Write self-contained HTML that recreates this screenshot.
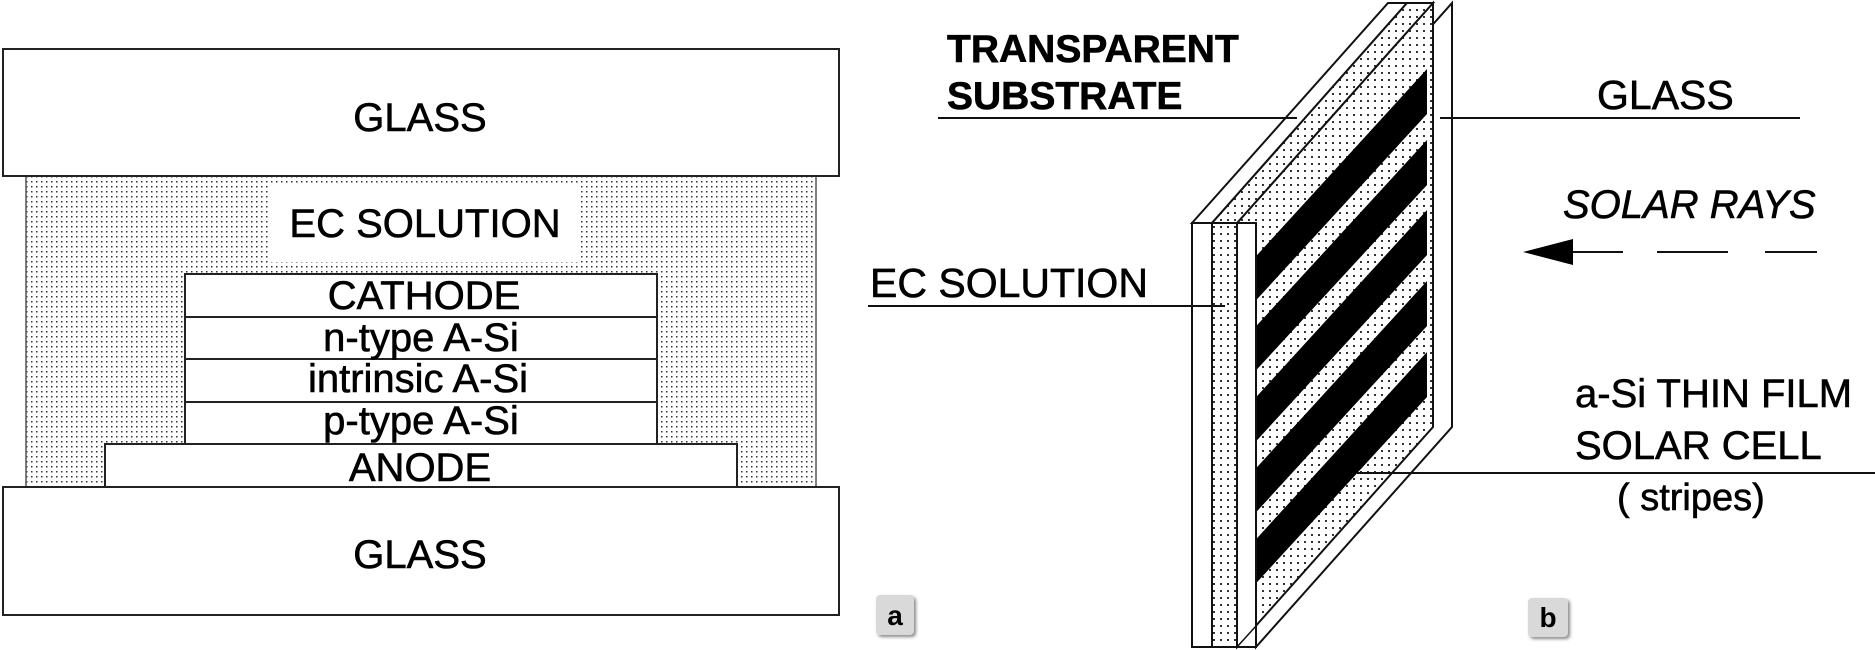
<!DOCTYPE html>
<html><head><meta charset="utf-8"><style>
html,body{margin:0;padding:0;background:#fff;}
svg{display:block;}
text{font-family:"Liberation Sans",sans-serif;fill:#000;stroke:#000;stroke-width:0.6px;}
</style></head><body>
<svg width="1875" height="650" viewBox="0 0 1875 650" xmlns="http://www.w3.org/2000/svg">
<defs>
<pattern id="dots" width="5" height="5" patternUnits="userSpaceOnUse">
<rect width="5" height="5" fill="#fff"/><rect x="1" y="1" width="1.5" height="1.5" fill="#333"/>
</pattern>
<pattern id="dots2" width="7" height="7" patternUnits="userSpaceOnUse">
<rect width="7" height="7" fill="#fff"/><rect x="2" y="2" width="2" height="2" fill="#333"/>
</pattern>
<filter id="sh" x="-30%" y="-30%" width="160%" height="160%"><feDropShadow dx="2" dy="2" stdDeviation="1.5" flood-color="#888"/></filter>
</defs>

<!-- Panel a -->
<rect x="26" y="176" width="790" height="311" fill="url(#dots)" stroke="#555" stroke-width="1.5"/>
<rect x="270" y="185" width="310" height="77" fill="#fff"/>
<rect x="3" y="49" width="836" height="127" fill="#fff" stroke="#222" stroke-width="2"/>
<rect x="185" y="274" width="472" height="170" fill="#fff" stroke="#222" stroke-width="2"/>
<line x1="185" y1="317" x2="657" y2="317" stroke="#222" stroke-width="2"/>
<line x1="185" y1="359" x2="657" y2="359" stroke="#222" stroke-width="2"/>
<line x1="185" y1="402" x2="657" y2="402" stroke="#222" stroke-width="2"/>
<rect x="105" y="444" width="632" height="43" fill="#fff" stroke="#222" stroke-width="2"/>
<rect x="3" y="487" width="836" height="128" fill="#fff" stroke="#222" stroke-width="2"/>
<g font-size="40" text-anchor="middle">
<text x="420" y="131">GLASS</text>
<text x="425" y="237">EC SOLUTION</text>
<text x="424" y="309">CATHODE</text>
<text x="421" y="351">n-type A-Si</text>
<text x="418" y="392">intrinsic A-Si</text>
<text x="421" y="434">p-type A-Si</text>
<text x="420" y="481">ANODE</text>
<text x="420" y="568">GLASS</text>
</g>
<rect x="876" y="595" width="38" height="40" rx="4" fill="#d9d9d9" filter="url(#sh)"/>
<text x="895" y="625" font-family="Liberation Serif,serif" font-weight="bold" font-size="28" text-anchor="middle" style="stroke-width:0">a</text>

<!-- Panel b -->
<polygon points="1256,223 1452,3 1452,427 1256,647" fill="#fff" stroke="#111" stroke-width="2"/>
<polygon points="1237,223 1433,3 1433,427 1237,647" fill="url(#dots2)" stroke="#111" stroke-width="2"/>
<polygon points="1192,223 1388,3 1407,3 1212,223" fill="#fff" stroke="#111" stroke-width="2"/>
<polygon points="1212,223 1407,3 1433,3 1237,223" fill="url(#dots2)" stroke="#111" stroke-width="2"/>
<g fill="#000">
<polygon points="1248,265 1427,69 1427,114 1248,309"/>
<polygon points="1248,335 1427,140 1427,185 1248,379"/>
<polygon points="1248,406 1427,210 1427,255 1248,450"/>
<polygon points="1248,477 1427,281 1427,326 1248,521"/>
<polygon points="1248,548 1427,352 1427,397 1248,592"/>
</g>
<rect x="1192" y="223" width="20" height="424" fill="#fff" stroke="#111" stroke-width="2"/>
<rect x="1212" y="223" width="25" height="424" fill="url(#dots2)" stroke="#111" stroke-width="2"/>
<rect x="1237" y="223" width="19" height="424" fill="#fff" stroke="#111" stroke-width="2"/>
<line x1="1237" y1="647" x2="1256" y2="626" stroke="#111" stroke-width="1.5"/>

<g stroke="#111" stroke-width="2">
<line x1="938" y1="118" x2="1297" y2="118"/>
<line x1="1440" y1="118" x2="1800" y2="118"/>
<line x1="868" y1="306" x2="1225" y2="306"/>
<line x1="1357" y1="473" x2="1875" y2="473"/>
<line x1="1560" y1="252" x2="1623" y2="252"/>
<line x1="1657" y1="252" x2="1728" y2="252"/>
<line x1="1765" y1="252" x2="1817" y2="252"/>
</g>
<polygon points="1523,252 1573,239 1573,265" fill="#000"/>

<g font-size="39">
<text x="947" y="62" font-weight="bold">TRANSPARENT</text>
<text x="947" y="109" font-weight="bold">SUBSTRATE</text>
<text x="870" y="297" font-size="41">EC SOLUTION</text>
<text x="1597" y="109" font-size="41">GLASS</text>
<text x="1563" y="218" font-style="italic" font-size="40">SOLAR RAYS</text>
<text x="1575" y="407" font-size="40">a-Si THIN FILM</text>
<text x="1575" y="459" font-size="40">SOLAR CELL</text>
<text x="1617" y="510" font-size="38">( stripes)</text>
</g>
<rect x="1528" y="598" width="40" height="39" rx="4" fill="#d9d9d9" filter="url(#sh)"/>
<text x="1548" y="627" font-family="Liberation Serif,serif" font-weight="bold" font-size="28" text-anchor="middle" style="stroke-width:0">b</text>
</svg>
</body></html>
